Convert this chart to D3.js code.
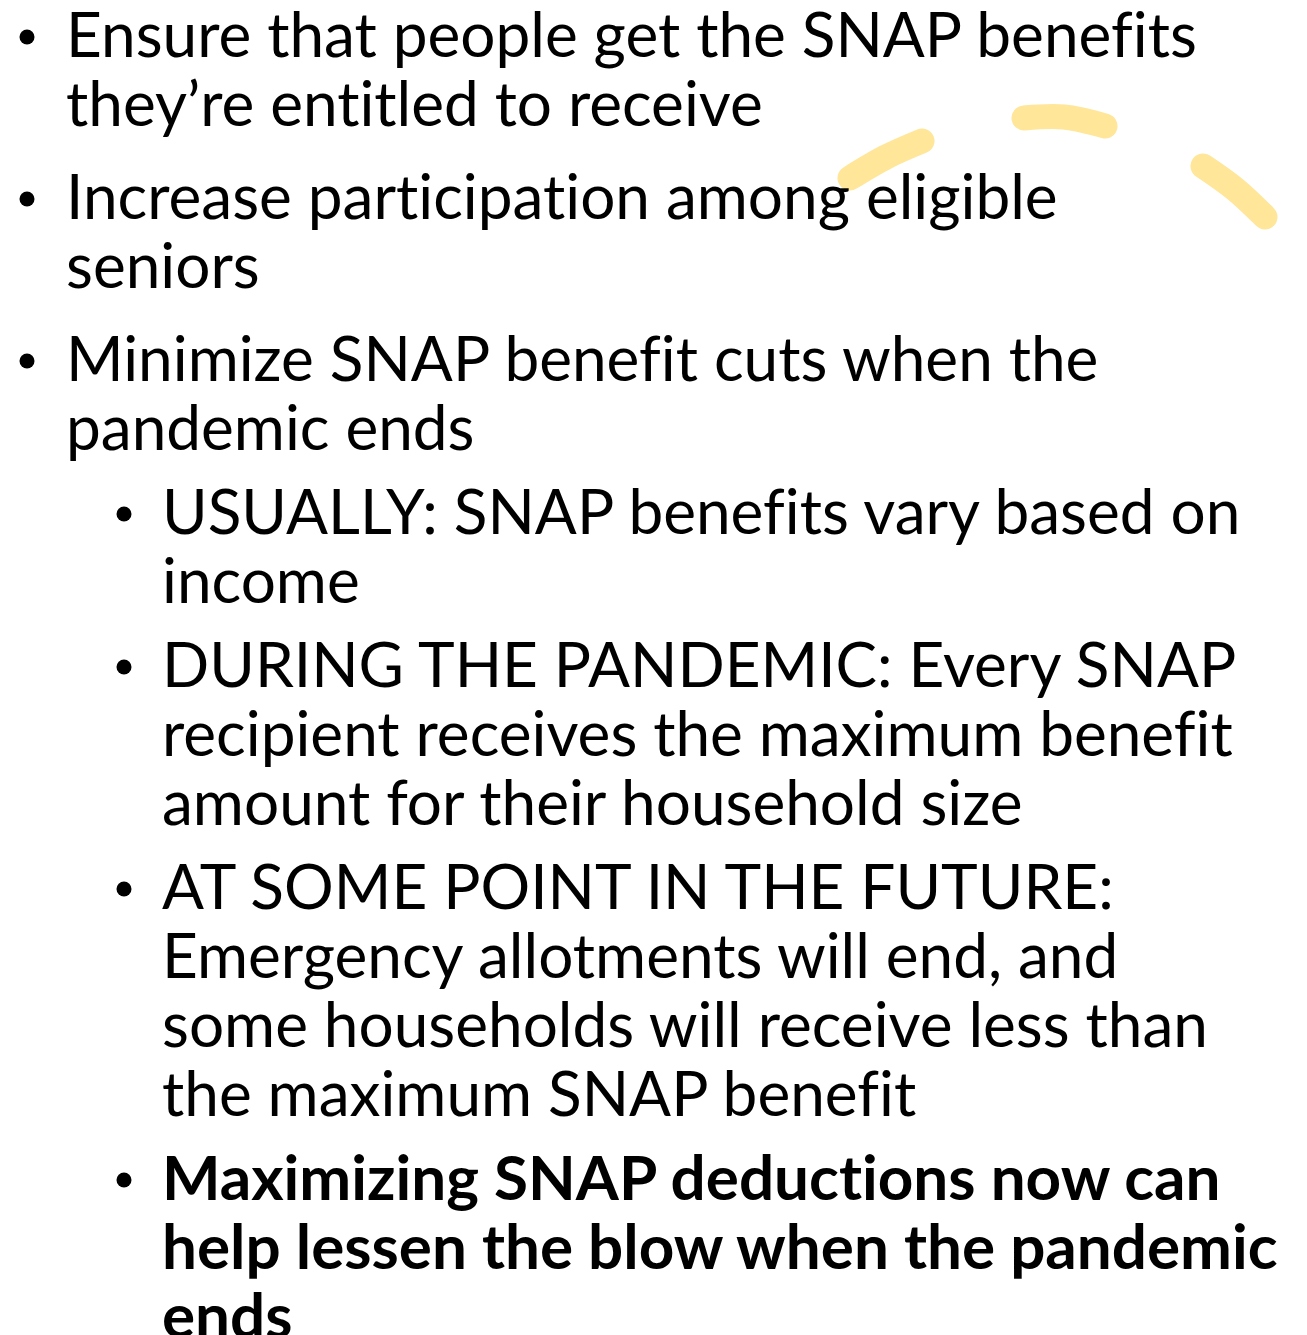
<!DOCTYPE html>
<html>
<head>
<meta charset="utf-8">
<script src="https://cdn.jsdelivr.net/npm/d3@7/dist/d3.min.js"></script>
<style>
  html, body { margin: 0; padding: 0; background: #ffffff; }
  svg { display: block; }
  text { font-variant-ligatures: none; font-feature-settings: "liga" 0, "dlig" 0, "clig" 0; }
</style>
</head>
<body>
<svg id="slide" width="1307" height="1335"></svg>
<script>
// ---- Content (data) ----
const itemLevels = [1, 1, 1, 2, 2, 2, 2];
const itemBold   = [false, false, false, false, false, false, true];
const itemLines  = [
  ["Ensure that people get the SNAP benefits", "they\u2019re entitled to receive"],
  ["Increase participation among eligible", "seniors"],
  ["Minimize SNAP benefit cuts when the", "pandemic ends"],
  ["USUALLY: SNAP benefits vary based on", "income"],
  ["DURING THE PANDEMIC: Every SNAP", "recipient receives the maximum benefit", "amount for their household size"],
  ["AT SOME POINT IN THE FUTURE:", "Emergency allotments will end, and", "some households will receive less than", "the maximum SNAP benefit"],
  ["Maximizing SNAP deductions now can", "help lessen the blow when the pandemic", "ends"]
];
// decorative dashed arc (three strokes), points in slide coordinates
const arcDash1 = [[850, 178], [886, 157], [922, 141]];
const arcDash2 = [[1024, 118], [1064, 117], [1105, 126]];
const arcDash3 = [[1203, 166], [1235, 189], [1265, 217]];

// ---- Layout ----
const W = 1307, H = 1335;
const svg = d3.select("#slide");
svg.append("rect").attr("width", W).attr("height", H).attr("fill", "#ffffff");

const FONT = "Lato, 'Noto Sans', 'DejaVu Sans', sans-serif";
const lineH = 69;
const gapTop = 24, gapSub = 15;

// build flat line list with positions in "units"
const flat = [];
let y = 0, prevLevel = null;
itemLines.forEach((lines, i) => {
  if (prevLevel !== null) y += (itemLevels[i] === 2 ? gapSub : gapTop) + lineH;
  lines.forEach((t, j) => {
    if (j > 0) y += lineH;
    flat.push({ text: t, level: itemLevels[i], bold: itemBold[i], first: j === 0, y: y });
  });
  prevLevel = itemLevels[i];
});

const yScale = d3.scaleLinear().domain([0, 1]).range([57, 58]); // baseline offset
const xText = d3.scaleOrdinal().domain([1, 2]).range([66, 162]);
const xBullet = d3.scaleOrdinal().domain([1, 2]).range([27, 124]);

// fit font sizes to measured reference widths
function fitSize(str, weight, target) {
  const t = svg.append("text").attr("font-family", FONT).attr("font-weight", weight)
    .attr("font-size", 100).text(str);
  const w = t.node().getComputedTextLength();
  t.remove();
  return 100 * target / w;
}
const fsReg = fitSize(itemLines[0][0], 400, 1131);
const fsBold = fitSize(itemLines[6][1], 700, 1116);

// decorative arcs (behind text)
const lineGen = d3.line().curve(d3.curveCatmullRom.alpha(0.5));
svg.append("g").selectAll("path").data([arcDash1, arcDash2, arcDash3]).join("path")
  .attr("d", lineGen)
  .attr("fill", "none")
  .attr("stroke", "#FFE699")
  .attr("stroke-width", 25)
  .attr("stroke-linecap", "round");

// bullets
svg.append("g").selectAll("circle").data(flat.filter(d => d.first)).join("circle")
  .attr("cx", d => xBullet(d.level))
  .attr("cy", d => yScale(d.y) - 20)
  .attr("r", 7.5)
  .attr("fill", "#000");

// text
svg.append("g").selectAll("text").data(flat).join("text")
  .attr("x", d => xText(d.level))
  .attr("y", d => yScale(d.y))
  .attr("font-family", FONT)
  .attr("font-weight", d => d.bold ? 700 : 400)
  .attr("font-size", d => d.bold ? fsBold : fsReg)
  .attr("fill", "#000")
  .text(d => d.text);
</script>
</body>
</html>
